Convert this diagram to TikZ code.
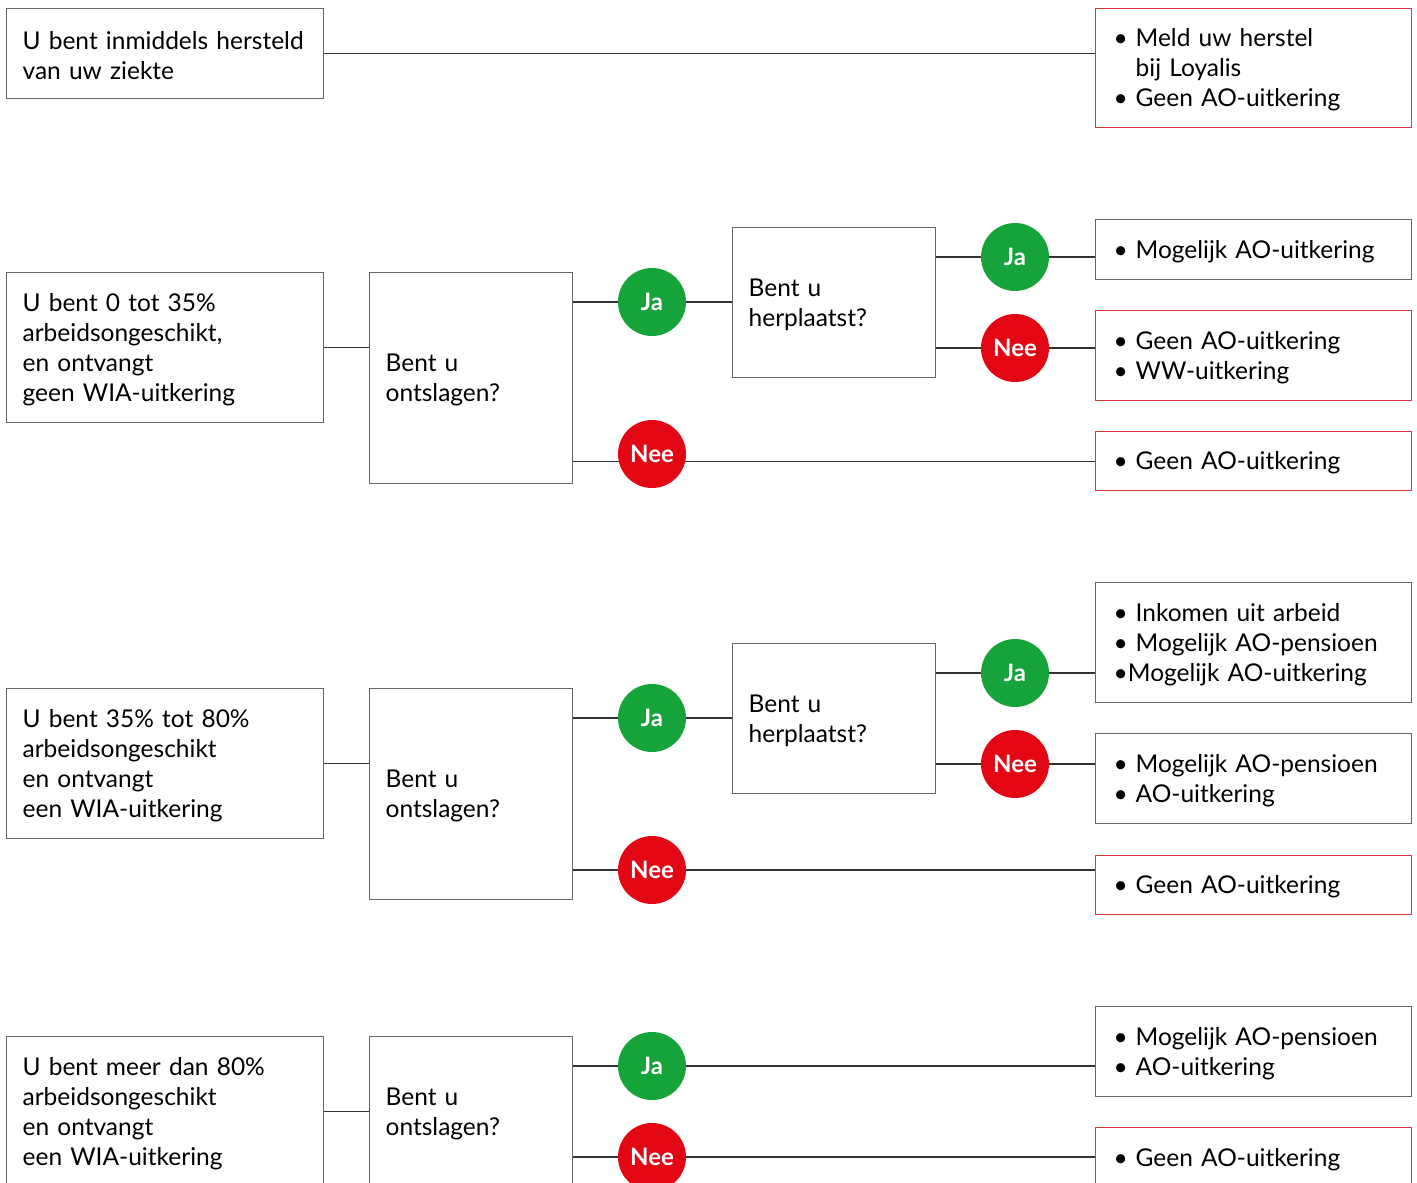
\documentclass[tikz,border=0pt]{standalone}
\usepackage{fontspec}
\setmainfont{Lato}
\definecolor{jagreen}{HTML}{16A33A}
\definecolor{neered}{HTML}{E30613}
\definecolor{boxred}{HTML}{E3343E}
\definecolor{boxgray}{HTML}{666666}
\definecolor{linegray}{HTML}{333333}
\newcommand\bitem{\makebox[22pt][l]{\textbullet}}
\newcommand\bhang{\hspace*{22pt}}
\newcommand\fstrut{\rule{0pt}{22pt}}
\tikzset{
  txtbox/.style={draw=boxgray, line width=1.3pt, rectangle, anchor=north west, align=left,
    inner xsep=16pt, inner ysep=0pt, font=\fontsize{24.5}{30}\selectfont},
  resbox/.style={txtbox, inner xsep=18pt, minimum width=316pt, text width=280pt},
  redbox/.style={resbox, draw=boxred},
  leftbox/.style={txtbox, minimum width=317pt, text width=285pt},
  qbox/.style={txtbox, minimum width=203pt, text width=171pt},
  circ/.style={circle, minimum size=68pt, inner sep=0pt, text=white,
    font=\fontsize{24}{24}\bfseries\selectfont},
  ja/.style={circ, fill=jagreen},
  nee/.style={circ, fill=neered},
  conn/.style={draw=linegray, line width=1.3pt}
}
\begin{document}
\begin{tikzpicture}[x=1pt,y=-1pt]
\useasboundingbox[fill=white] (0,0) rectangle (1417,1183);

% ---- section 1
\node[leftbox, minimum height=90pt] (a1) at (6,8) {\fstrut U bent inmiddels hersteld\\van uw ziekte};
\node[redbox, minimum height=119pt] (r1) at (1095,8) {\fstrut\bitem Meld uw herstel\\\bhang bij Loyalis\\\bitem Geen AO-uitkering};
\draw[conn] (a1.east) -- (a1.east -| r1.west);

% ---- section 2
\node[leftbox, minimum height=150pt] (b1) at (6,272) {\fstrut U bent 0 tot 35\%\\arbeidsongeschikt,\\en ontvangt\\geen WIA-uitkering};
\node[qbox, minimum height=211pt] (q1) at (369,272) {\fstrut Bent u\\ontslagen?};
\node[qbox, minimum height=150pt] (q2) at (732,227) {\fstrut Bent u\\herplaatst?};
\node[resbox, minimum height=60pt] (r2) at (1095,219) {\fstrut\bitem Mogelijk AO-uitkering};
\node[redbox, minimum height=90pt] (r3) at (1095,310) {\fstrut\bitem Geen AO-uitkering\\\bitem WW-uitkering};
\node[redbox, minimum height=59pt] (r4) at (1095,431) {\fstrut\bitem Geen AO-uitkering};
\node[ja] (j1) at (652,302) {Ja};
\node[ja] (j2) at (1015,257) {Ja};
\node[nee] (n2) at (1015,348) {Nee};
\draw[conn] (b1.east) -- (b1.east -| q1.west);
\draw[conn] (q1.east |- j1) -- (j1.west);
\draw[conn] (j1.east) -- (j1.east -| q2.west);
\draw[conn] (q2.east |- j2) -- (j2.west);
\draw[conn] (j2.east) -- (j2.east -| r2.west);
\draw[conn] (q2.east |- n2) -- (n2.west);
\draw[conn] (n2.east) -- (n2.east -| r3.west);
\draw[conn] (q1.east |- r4.west) -- (r4.west);
\node[nee] (n1) at (652,454) {Nee};

% ---- section 3
\node[leftbox, minimum height=150pt] (b2) at (6,688) {\fstrut U bent 35\% tot 80\%\\arbeidsongeschikt\\en ontvangt\\een WIA-uitkering};
\node[qbox, minimum height=211pt] (q3) at (369,688) {\fstrut Bent u\\ontslagen?};
\node[qbox, minimum height=150pt] (q4) at (732,643) {\fstrut Bent u\\herplaatst?};
\node[resbox, minimum height=120pt] (r5) at (1095,582) {\fstrut\bitem Inkomen uit arbeid\\\bitem Mogelijk AO-pensioen\\\textbullet Mogelijk AO-uitkering};
\node[resbox, minimum height=90pt] (r6) at (1095,733) {\fstrut\bitem Mogelijk AO-pensioen\\\bitem AO-uitkering};
\node[redbox, minimum height=59pt] (r7) at (1095,855) {\fstrut\bitem Geen AO-uitkering};
\node[ja] (j3) at (652,718) {Ja};
\node[ja] (j4) at (1015,673) {Ja};
\node[nee] (n4) at (1015,764) {Nee};
\node[nee] (n3) at (652,870) {Nee};
\draw[conn] (b2.east) -- (b2.east -| q3.west);
\draw[conn] (q3.east |- j3) -- (j3.west);
\draw[conn] (j3.east) -- (j3.east -| q4.west);
\draw[conn] (q4.east |- j4) -- (j4.west);
\draw[conn] (j4.east) -- (j4.east -| r5.west);
\draw[conn] (q4.east |- n4) -- (n4.west);
\draw[conn] (n4.east) -- (n4.east -| r6.west);
\draw[conn] (q3.east |- n3) -- (n3.west);
\draw[conn] (n3.east) -- (n3.east -| r7.west);

% ---- section 4
\node[leftbox, minimum height=150pt] (b3) at (6,1036) {\fstrut U bent meer dan 80\%\\arbeidsongeschikt\\en ontvangt\\een WIA-uitkering};
\node[qbox, minimum height=150pt] (q5) at (369,1036) {\fstrut Bent u\\ontslagen?};
\node[resbox, minimum height=90pt] (r8) at (1095,1006) {\fstrut\bitem Mogelijk AO-pensioen\\\bitem AO-uitkering};
\node[redbox, minimum height=60pt] (r9) at (1095,1127) {\fstrut\bitem Geen AO-uitkering};
\node[ja] (j5) at (652,1066) {Ja};
\node[nee] (n5) at (652,1157) {Nee};
\draw[conn] (b3.east) -- (b3.east -| q5.west);
\draw[conn] (q5.east |- j5) -- (j5.west);
\draw[conn] (j5.east) -- (j5.east -| r8.west);
\draw[conn] (q5.east |- n5) -- (n5.west);
\draw[conn] (n5.east) -- (n5.east -| r9.west);
\end{tikzpicture}
\end{document}
